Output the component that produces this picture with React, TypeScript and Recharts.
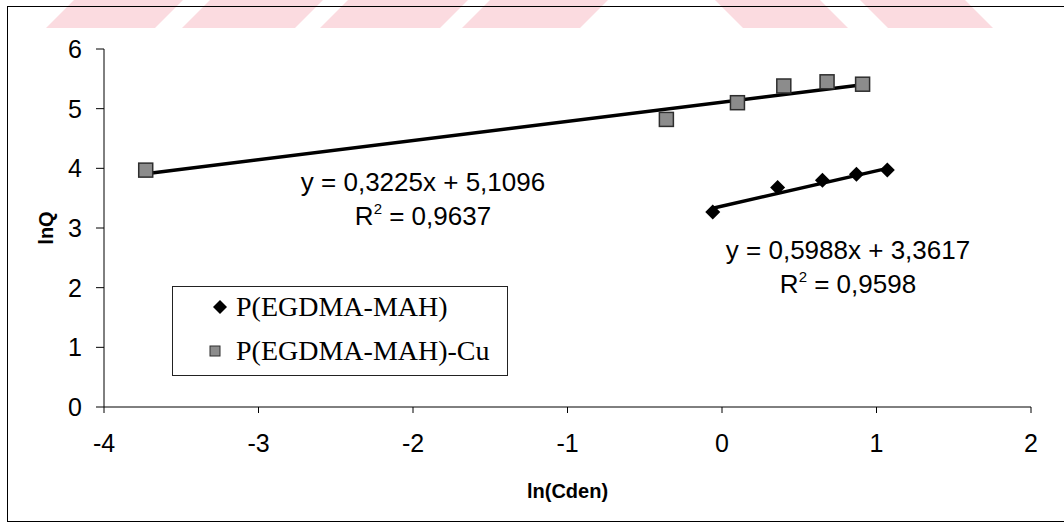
import { ScatterChart, Scatter, XAxis, YAxis, ReferenceLine, Label } from "recharts"

// ln(Cden) / lnQ readings
const egLnC = [-0.06, 0.36, 0.65, 0.87, 1.07]
const egLnQ = [3.27, 3.68, 3.8, 3.9, 3.97]
const cuLnC = [-3.73, -0.36, 0.1, 0.4, 0.68, 0.91]
const cuLnQ = [3.97, 4.82, 5.1, 5.38, 5.45, 5.41]

// trendline ends as drawn
const egTrendX = [-0.06, 1.07]
const egTrendY = [3.33, 4.0]
const cuTrendX = [-3.73, 0.91]
const cuTrendY = [3.91, 5.4]

const xTicks = [-4, -3, -2, -1, 0, 1, 2]
const yTicks = [0, 1, 2, 3, 4, 5, 6]

const seriesNames = ["P(EGDMA-MAH)", "P(EGDMA-MAH)-Cu"]
const eqEg = ["y = 0,5988x + 3,3617", "0,9598"]
const eqCu = ["y = 0,3225x + 5,1096", "0,9637"]

const egData = egLnC.map((x, i) => ({ x, y: egLnQ[i] }))
const cuData = cuLnC.map((x, i) => ({ x, y: cuLnQ[i] }))

const sans = "'Liberation Sans', Arial, sans-serif"
const serif = "'Liberation Serif', 'Times New Roman', serif"

const Diamond = (p: any) => {
  const { cx, cy } = p
  const r = 7.5
  return <polygon points={`${cx},${cy - r} ${cx + r},${cy} ${cx},${cy + r} ${cx - r},${cy}`} fill="#000" />
}

const Square = (p: any) => {
  const { cx, cy } = p
  return <rect x={cx - 7} y={cy - 7} width={14} height={14} fill="#8c8c8c" stroke="#2e2e2e" strokeWidth={1.5} />
}

// faint pink watermark along the top edge
const marks = [
  [46, 155, 28], [182, 295, 28], [320, 440, 28], [462, 580, 28],
  [743, 848, -28], [888, 993, -28],
]

function Equation({ x, y, lines }: { x: number; y: number; lines: string[] }) {
  return (
    <g fontFamily={sans} fontSize={26} fill="#000" textAnchor="middle">
      <text x={x} y={y}>{lines[0]}</text>
      <text x={x} y={y + 34}>
        R<tspan fontSize={15} dy={-11}>2</tspan>
        <tspan dy={11}> = {lines[1]}</tspan>
      </text>
    </g>
  )
}

export default function App() {
  const tickStyle = { fill: "#000", fontSize: 25, fontFamily: sans }
  return (
    <div style={{ position: "absolute", left: 0, top: 0, width: 1064, height: 526, background: "#fff", overflow: "hidden" }}>
      <svg width={1064} height={30} style={{ position: "absolute", left: 0, top: 0 }}>
        {marks.map(([a, b, s], i) => (
          <polygon key={i} points={`${a},28 ${b},28 ${b + s},0 ${a + s},0`} fill="#fbdbe0" />
        ))}
      </svg>
      <div
        style={{
          position: "absolute", left: 7, top: 6, width: 1070, height: 514,
          borderLeft: "1px solid #000", borderTop: "1px solid #000", borderBottom: "1px solid #000",
        }}
      />
      <div style={{ position: "absolute", left: 0, top: 0 }}>
        <ScatterChart width={1064} height={526} margin={{ top: 49, right: 33, left: 0, bottom: 59 }}>
          <XAxis
            type="number"
            dataKey="x"
            domain={[-4, 2]}
            ticks={xTicks}
            height={60}
            tickSize={6}
            tickMargin={21}
            stroke="#000"
            tick={tickStyle}
            allowDataOverflow
          >
            <Label value="ln(Cden)" position="bottom" offset={17} fill="#000" fontSize={20} fontWeight="bold" fontFamily={sans} />
          </XAxis>
          <YAxis
            type="number"
            dataKey="y"
            domain={[0, 6]}
            ticks={yTicks}
            width={104}
            tickSize={8}
            tickMargin={14}
            stroke="#000"
            tick={tickStyle}
            allowDataOverflow
          >
            <Label value="lnQ" position="center" angle={-90} dx={-6} fill="#000" fontSize={20} fontWeight="bold" fontFamily={sans} />
          </YAxis>
          <Scatter name={seriesNames[0]} data={egData} shape={Diamond} isAnimationActive={false} />
          <Scatter name={seriesNames[1]} data={cuData} shape={Square} isAnimationActive={false} />
          <ReferenceLine
            segment={[{ x: egTrendX[0], y: egTrendY[0] }, { x: egTrendX[1], y: egTrendY[1] }]}
            stroke="#000"
            strokeWidth={3.5}
            ifOverflow="visible"
          />
          <ReferenceLine
            segment={[{ x: cuTrendX[0], y: cuTrendY[0] }, { x: cuTrendX[1], y: cuTrendY[1] }]}
            stroke="#000"
            strokeWidth={3.5}
            ifOverflow="visible"
          />
        </ScatterChart>
      </div>
      <svg width={1064} height={526} style={{ position: "absolute", left: 0, top: 0, pointerEvents: "none" }}>
        <Equation x={423} y={191} lines={eqCu} />
        <Equation x={848} y={259} lines={eqEg} />
      </svg>
      <div
        style={{
          position: "absolute", left: 172, top: 286, width: 336, height: 90, boxSizing: "border-box",
          border: "1px solid #222", background: "#fff", fontFamily: serif, fontSize: 28, color: "#000",
        }}
      >
        <div style={{ position: "absolute", left: 39, top: 6, display: "flex", alignItems: "center", height: 28 }}>
          <svg width={16} height={16} style={{ marginRight: 8 }}>
            <polygon points="8,1 15,8 8,15 1,8" fill="#000" />
          </svg>
          {seriesNames[0]}
        </div>
        <div style={{ position: "absolute", left: 36, top: 50, display: "flex", alignItems: "center", height: 28 }}>
          <svg width={12} height={12} style={{ marginRight: 15 }}>
            <rect x={1} y={1} width={10} height={10} fill="#8c8c8c" stroke="#2e2e2e" strokeWidth={1} />
          </svg>
          {seriesNames[1]}
        </div>
      </div>
    </div>
  )
}
